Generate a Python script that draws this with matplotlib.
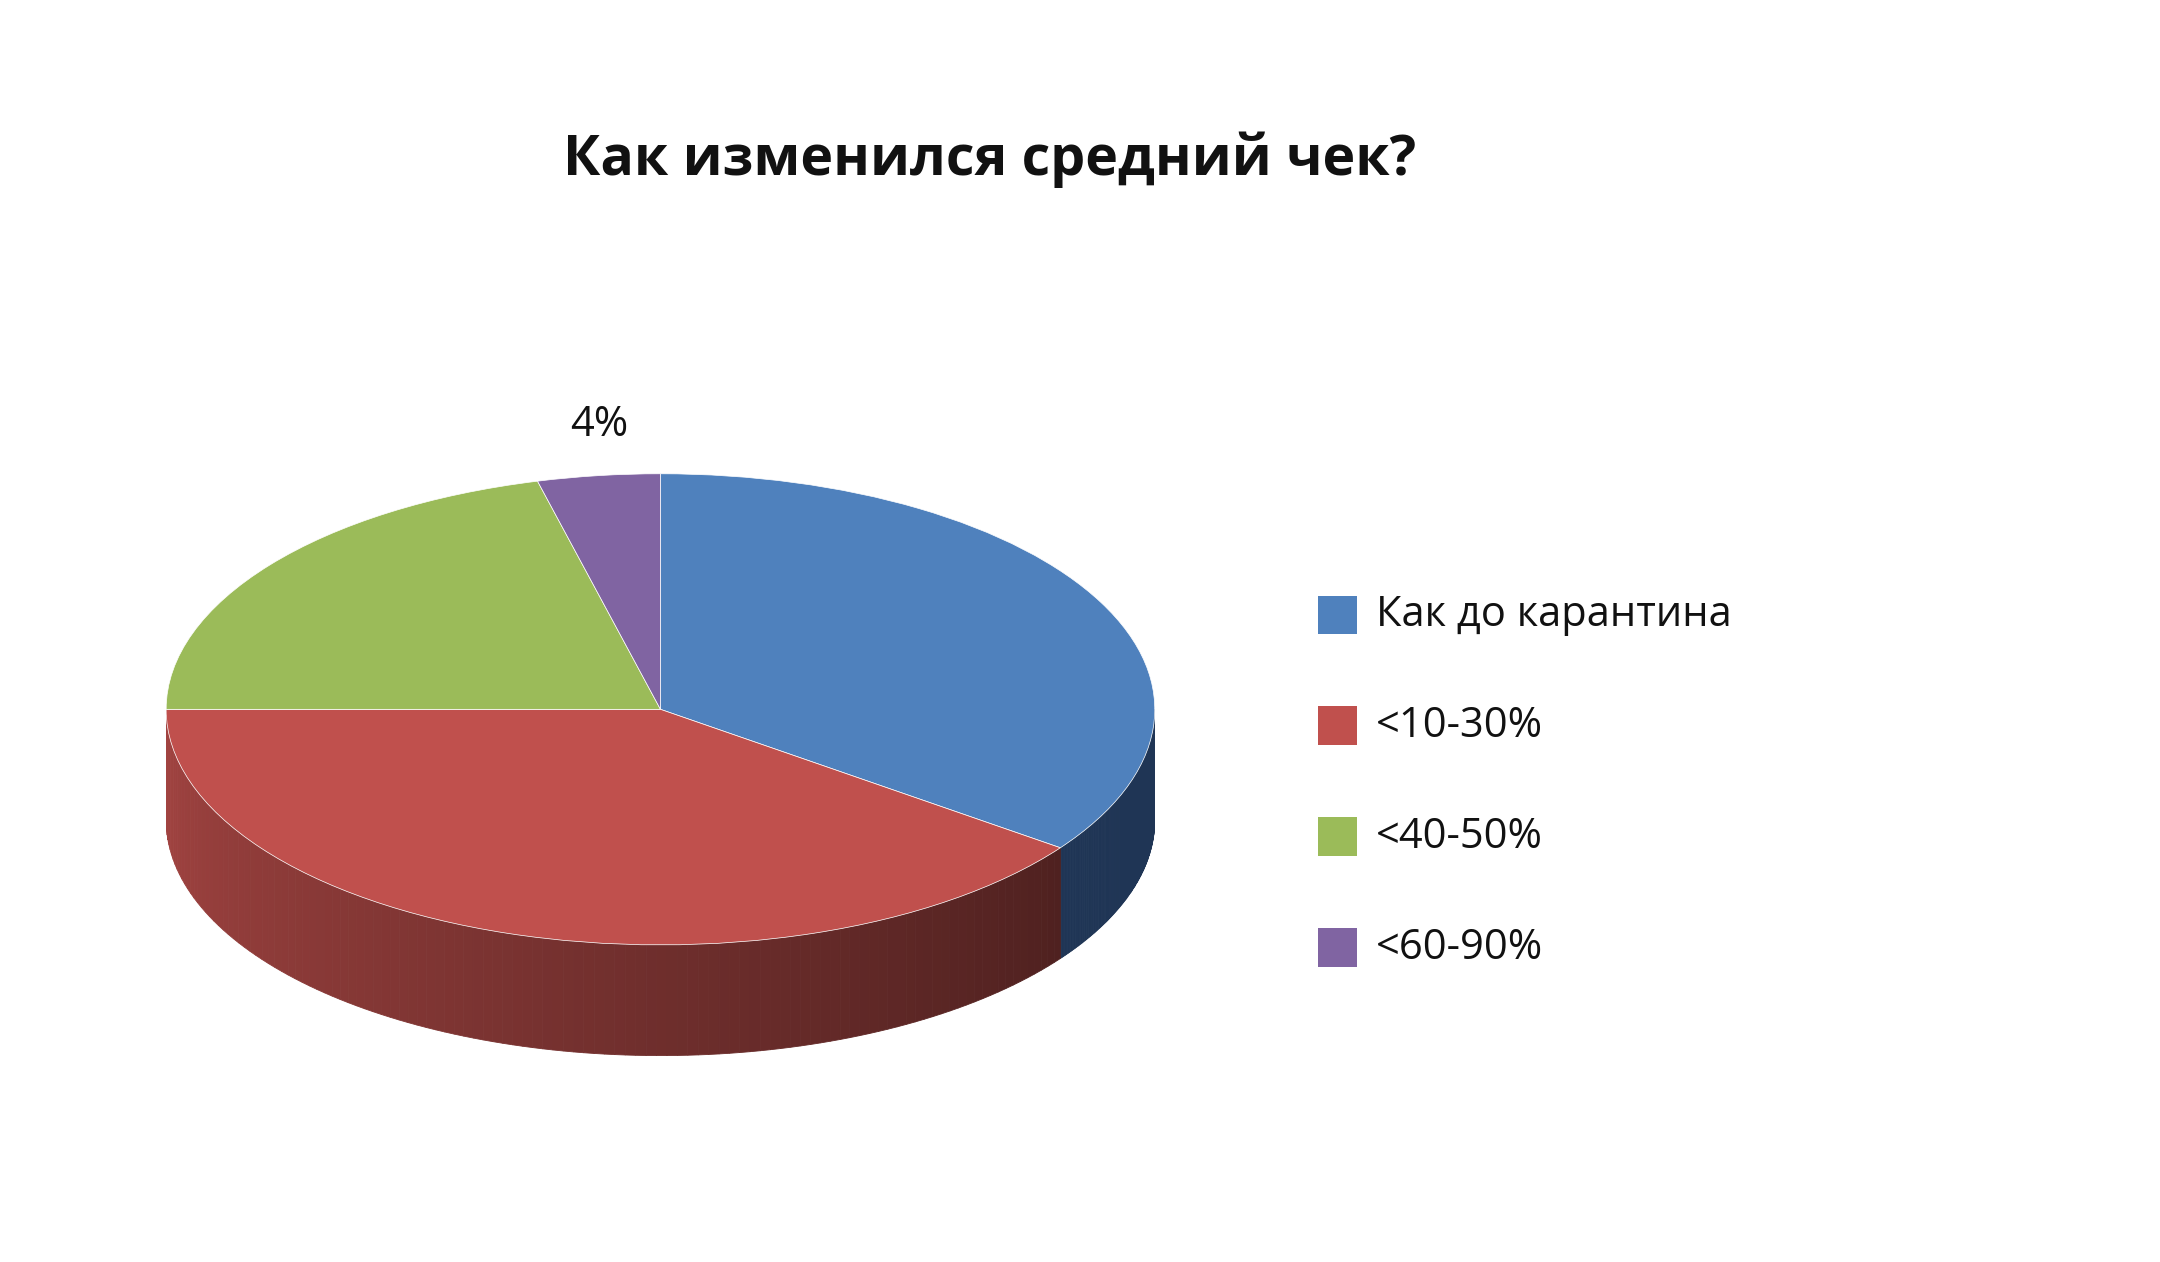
import numpy as np
import matplotlib
matplotlib.use("Agg")
import matplotlib.pyplot as plt
from matplotlib.patches import Polygon, Rectangle

title = "Как изменился средний чек?"
categories = ["Как до карантина", "<10-30%", "<40-50%", "<60-90%"]
values = [35, 40, 21, 4]
labels = ["35%", "40%", "21%", "4%"]
colors = ["#4F81BD", "#C0504D", "#9BBB59", "#8064A2"]

W, H = 1560, 911
fig = plt.figure(figsize=(21.6, 12.62), dpi=100)
fig.patch.set_facecolor("white")
FONT = ["Open Sans", "DejaVu Sans"]

bg = fig.add_axes([0, 0, 1, 1]); bg.set_xlim(0, W); bg.set_ylim(H, 0); bg.axis("off")
bg.text(715, 115, title, ha="center", va="center", fontsize=40, fontweight="bold", family=FONT, color="#111")

# pie axes: unit ellipse top, depth below
depth = 0.47
ax = fig.add_axes([120/W, (H-762)/H, 714/W, 420/H])
ax.set_xlim(-1, 1); ax.set_ylim(-1-depth, 1); ax.axis("off")

# side walls (front half, angles -180..0)
starts = 90 - np.cumsum([0] + values[:-1]) * 3.6
ends = starts - np.array(values) * 3.6
dark = {0: np.array([0x1F, 0x35, 0x55]) / 255}
for i in range(len(values)):
    a0, a1 = ends[i], starts[i]
    lo, hi = max(a0, -180), min(a1, 0)
    if lo >= hi:
        # handle wrap for angles in -270..-180 (not front)
        continue
    angs = np.linspace(lo, hi, 120)
    for j in range(len(angs) - 1):
        t = np.radians(angs[j:j+2])
        xs = np.cos(t); ys = np.sin(t)
        poly = [(xs[0], ys[0]), (xs[1], ys[1]), (xs[1], ys[1]-depth), (xs[0], ys[0]-depth)]
        if i == 0:
            c = dark[0]
        else:
            f = (angs[j] + 180) / 180  # 0 at left, 1 at right
            base = np.array(matplotlib.colors.to_rgb(colors[i]))
            c = base * (0.85 - 0.55 * f)
        ax.add_patch(Polygon(poly, closed=True, facecolor=c, edgecolor=c, lw=0.6))

wedges, _ = ax.pie(values, colors=colors, startangle=90, counterclock=False,
                   radius=1, center=(0, 0), frame=True,
                   wedgeprops=dict(edgecolor="white", linewidth=0.5))
ax.set_aspect("auto")
ax.set_xlim(-1, 1); ax.set_ylim(-1-depth, 1); ax.axis("off")

label_pos = [(665, 427), (360, 625), (290, 425), (433, 307)]
for (x, y), t in zip(label_pos, labels):
    bg.text(x, y, t, ha="center", va="center", fontsize=30, family=FONT, color="#111")

for k, (cat, col) in enumerate(zip(categories, colors)):
    y = 444 + 80 * k
    bg.add_patch(Rectangle((952, y-14), 28, 28, facecolor=col, edgecolor="none"))
    bg.text(994, y, cat, ha="left", va="center", fontsize=30, family=FONT, color="#111")

fig.savefig("out.png", dpi=100, facecolor="white")
